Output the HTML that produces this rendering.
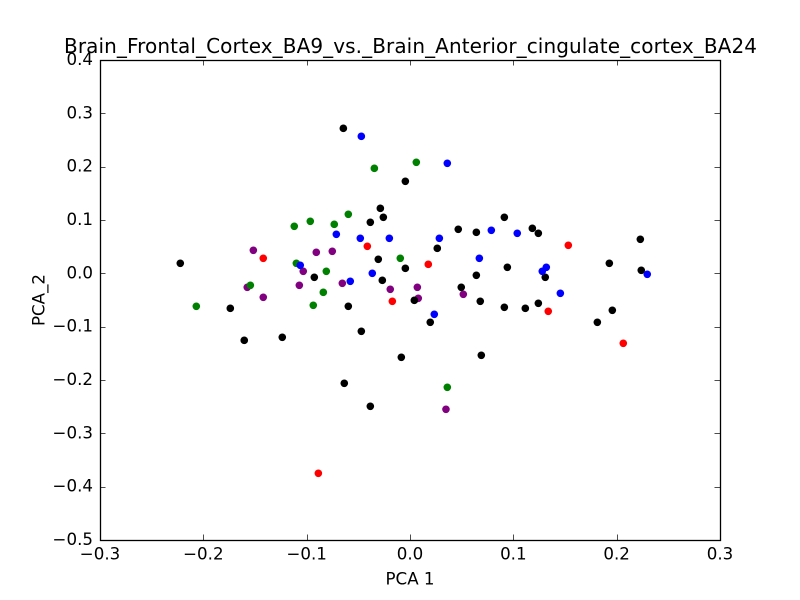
<!DOCTYPE html>
<html>
<head>
<meta charset="utf-8">
<title>PCA scatter</title>
<style>
html,body{margin:0;padding:0;background:#fff;}
svg{display:block;}
text{font-family:"DejaVu Sans","Liberation Sans",sans-serif;fill:#000;}
</style>
</head>
<body>
<svg id="chart" width="800" height="600" viewBox="0 0 800 600" xmlns="http://www.w3.org/2000/svg">
<rect x="0" y="0" width="800" height="600" fill="#fff"/>
<text x="410.5" y="53" font-size="20" text-anchor="middle" textLength="693" lengthAdjust="spacing">Brain_Frontal_Cortex_BA9_vs._Brain_Anterior_cingulate_cortex_BA24</text>
<text x="410" y="584.5" font-size="16.67" text-anchor="middle">PCA 1</text>
<text x="0" y="0" font-size="16.67" text-anchor="middle" transform="translate(44.3 300) rotate(-90)">PCA_2</text>
<g id="points"></g>
<g id="axes"></g>
</svg>
<script>
const xTicks = [-0.3, -0.2, -0.1, 0, 0.1, 0.2, 0.3];
const yTicks = [0.4, 0.3, 0.2, 0.1, 0, -0.1, -0.2, -0.3, -0.4, -0.5];
const xLabels = ["\u22120.3", "\u22120.2", "\u22120.1", "0.0", "0.1", "0.2", "0.3"];
const yLabels = ["0.4", "0.3", "0.2", "0.1", "0.0", "\u22120.1", "\u22120.2", "\u22120.3", "\u22120.4", "\u22120.5"];

const purpleX = [-0.1516,-0.0907,-0.0752,-0.1033,-0.1575,-0.1071,-0.1420,-0.0655,-0.0191,0.0071,0.0080,0.0516,0.0348];
const purpleY = [0.0432,0.0394,0.0413,0.0038,-0.0262,-0.0224,-0.0449,-0.0187,-0.0299,-0.0262,-0.0468,-0.0393,-0.2549];

const redX = [-0.1420,-0.0413,-0.0171,0.0177,0.1532,0.1338,0.2064,-0.0887];
const redY = [0.0282,0.0507,-0.0524,0.0169,0.0526,-0.0712,-0.1312,-0.3749];

const blackX = [-0.0287,-0.0258,-0.0384,-0.2223,-0.0307,-0.0045,-0.0926,-0.0268,-0.1739,-0.0597,0.0042,-0.1604,-0.1236,-0.0471,-0.0084,-0.0645,-0.0045,-0.0636,-0.0384,0.0913,0.0467,0.0642,0.1184,0.1242,0.0264,0.2229,0.0942,0.0642,0.1929,0.2238,0.1309,0.0496,0.0680,0.0913,0.1116,0.1242,0.1958,0.1813,0.0196,0.0690];
const blackY = [0.1219,0.1051,0.0957,0.0188,0.0263,0.0094,-0.0074,-0.0131,-0.0656,-0.0618,-0.0506,-0.1256,-0.1199,-0.1087,-0.1574,0.2719,0.1726,-0.2062,-0.2493,0.1051,0.0826,0.0769,0.0844,0.0751,0.0469,0.0638,0.0113,-0.0037,0.0188,0.0057,-0.0074,-0.0262,-0.0524,-0.0637,-0.0656,-0.0562,-0.0693,-0.0918,-0.0918,-0.1537];

const greenX = [-0.0597,-0.0965,-0.0733,-0.1120,-0.0094,-0.1100,-0.0810,-0.1545,-0.0839,-0.0936,-0.2068,-0.0345,0.0061,0.0361];
const greenY = [0.1107,0.0976,0.0919,0.0882,0.0282,0.0188,0.0038,-0.0224,-0.0356,-0.0599,-0.0618,0.1969,0.2082,-0.2137];

const blueX = [-0.0713,-0.0481,-0.0200,-0.1062,-0.0365,-0.0578,-0.0471,0.0361,0.0284,0.0787,0.1038,0.0671,0.1319,0.1280,0.2296,0.1455,0.0235];
const blueY = [0.0732,0.0657,0.0657,0.0151,0.0001,-0.0149,0.2569,0.2063,0.0657,0.0807,0.0751,0.0282,0.0113,0.0038,-0.0018,-0.0374,-0.0768];

const NS = "http://www.w3.org/2000/svg";
const plotLeft = 100, plotRight = 720, plotTop = 60, plotBottom = 540;
const xMin = -0.3, xMax = 0.3, yMin = -0.5, yMax = 0.4;
function xScale(v) { return plotLeft + (v - xMin) / (xMax - xMin) * (plotRight - plotLeft); }
function yScale(v) { return plotBottom - (v - yMin) / (yMax - yMin) * (plotBottom - plotTop); }

const pointsGroup = document.getElementById("points");
const axesGroup = document.getElementById("axes");

function drawSeries(xs, ys, color, name) {
  xs.forEach(function (xv, i) {
    const c = document.createElementNS(NS, "circle");
    c.setAttribute("cx", xScale(xv));
    c.setAttribute("cy", yScale(ys[i]));
    c.setAttribute("r", 3.8);
    c.setAttribute("fill", color);
    
    
    pointsGroup.appendChild(c);
  });
}
drawSeries(purpleX, purpleY, "#800080", "purple");
drawSeries(redX, redY, "#ff0000", "red");
drawSeries(blackX, blackY, "#000000", "black");
drawSeries(greenX, greenY, "#008000", "green");
drawSeries(blueX, blueY, "#0000ff", "blue");

function line(x1, y1, x2, y2, width) {
  const l = document.createElementNS(NS, "line");
  l.setAttribute("x1", x1);
  l.setAttribute("y1", y1);
  l.setAttribute("x2", x2);
  l.setAttribute("y2", y2);
  l.setAttribute("stroke", "#000");
  l.setAttribute("stroke-width", width);
  axesGroup.appendChild(l);
  return l;
}

const tickLen = 5.5;
xTicks.forEach(function (v, i) {
  const px = Math.round(xScale(v)) + 0.5;
  const b = line(px, plotBottom, px, plotBottom - tickLen, 0.7);
  
  
  const t = line(px, plotTop, px, plotTop + tickLen, 0.7);
  
  
  const lab = document.createElementNS(NS, "text");
  lab.setAttribute("x", xScale(v));
  lab.setAttribute("y", 559.3);
  lab.setAttribute("font-size", 16.67);
  lab.setAttribute("text-anchor", "middle");
  lab.textContent = xLabels[i];
  
  
  axesGroup.appendChild(lab);
});
yTicks.forEach(function (v, i) {
  const py = Math.round(yScale(v)) + 0.5;
  const l = line(plotLeft, py, plotLeft + tickLen, py, 0.7);
  
  
  const r = line(plotRight, py, plotRight - tickLen, py, 0.7);
  
  
  const lab = document.createElementNS(NS, "text");
  lab.setAttribute("x", 93);
  lab.setAttribute("y", yScale(v) + 5);
  lab.setAttribute("font-size", 16.67);
  lab.setAttribute("text-anchor", "end");
  lab.textContent = yLabels[i];
  
  
  axesGroup.appendChild(lab);
});

const frame = document.createElementNS(NS, "rect");
frame.setAttribute("x", plotLeft + 0.5);
frame.setAttribute("y", plotTop + 0.5);
frame.setAttribute("width", plotRight - plotLeft);
frame.setAttribute("height", plotBottom - plotTop);
frame.setAttribute("fill", "none");
frame.setAttribute("stroke", "#000");
frame.setAttribute("stroke-width", 1.3);


axesGroup.appendChild(frame);
</script>
</body>
</html>
